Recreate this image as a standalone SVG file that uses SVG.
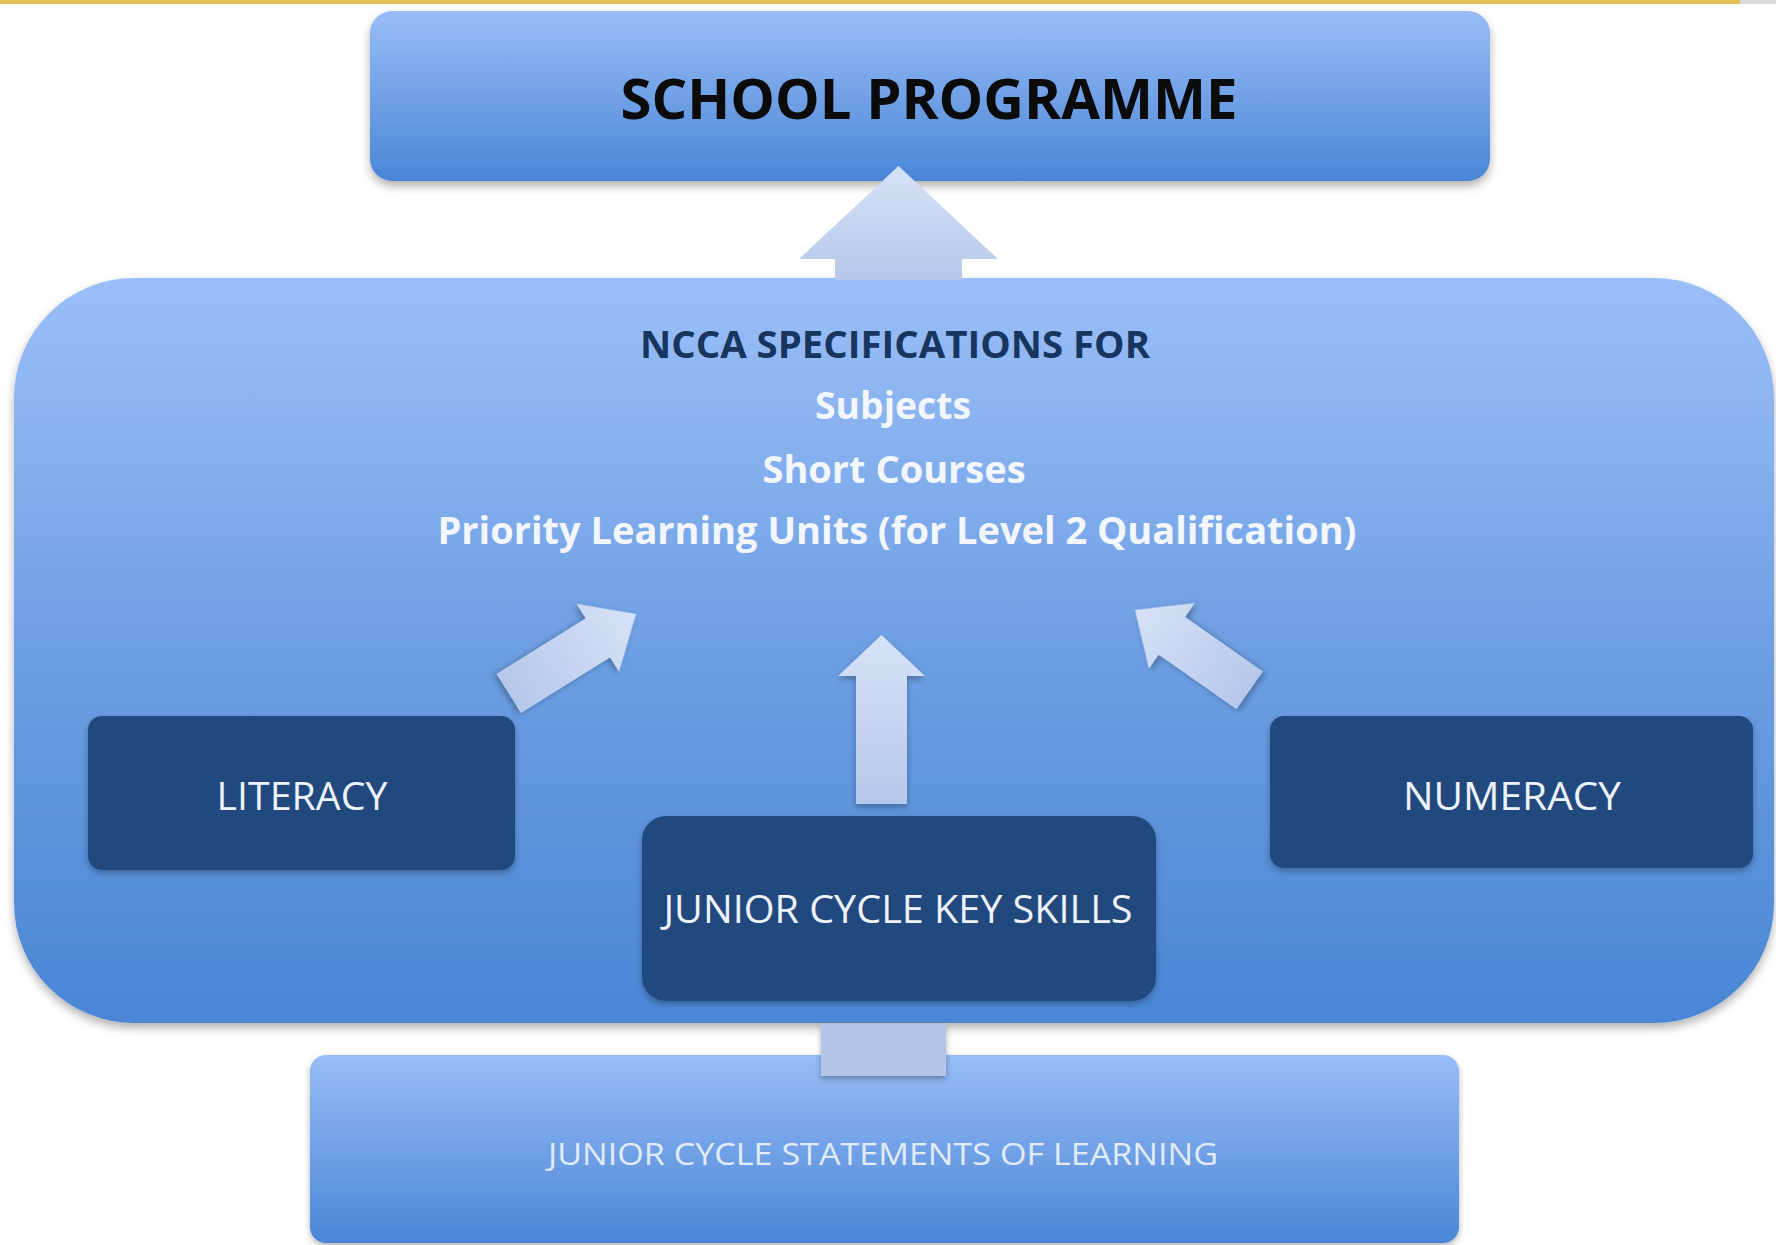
<svg xmlns="http://www.w3.org/2000/svg" width="1776" height="1245" viewBox="0 0 1776 1245">
  <style>
    .t { font-family: "Open Sans", "Liberation Sans", sans-serif; text-anchor: middle; }
    .title { font-weight: 700; font-size: 56px; fill: #0b0b0b; }
    .ncca { font-weight: 700; font-size: 37px; fill: #17365f; }
    .spec { font-weight: 700; font-size: 37px; fill: #f3f7fd; }
    .dark { font-weight: 400; font-size: 38px; fill: #eef3fb; }
    .sol { font-weight: 400; font-size: 31px; fill: #e2ebf8; }
    .darkbox { fill: #214a7e; }
    .arrow { fill: url(#arrowGrad); }
  </style>
  <defs>
    <linearGradient id="lightBox" x1="0" y1="0" x2="0" y2="1">
      <stop offset="0" stop-color="#98bdf7"/>
      <stop offset="1" stop-color="#4a86d6"/>
    </linearGradient>
    <linearGradient id="bigBox" x1="0" y1="0" x2="0" y2="1">
      <stop offset="0" stop-color="#9bbff8"/>
      <stop offset="0.5" stop-color="#6d9fe3"/>
      <stop offset="1" stop-color="#4a86d5"/>
    </linearGradient>
    <linearGradient id="arrowGrad" x1="0" y1="0" x2="0" y2="1">
      <stop offset="0" stop-color="#d6e2f7"/>
      <stop offset="1" stop-color="#b6c8ea"/>
    </linearGradient>
    <filter id="shadow" x="-10%" y="-10%" width="120%" height="130%">
      <feDropShadow dx="0" dy="5" stdDeviation="5" flood-color="#000" flood-opacity="0.3"/>
    </filter>
    <filter id="shadowSm" x="-20%" y="-20%" width="140%" height="140%">
      <feDropShadow dx="0" dy="3" stdDeviation="3" flood-color="#000" flood-opacity="0.3"/>
    </filter>
  </defs>

  <rect x="0" y="0" width="1776" height="1245" fill="#ffffff"/>
  <rect x="0" y="0" width="1740" height="4" fill="#e3bd55"/>
  <rect x="1740" y="0" width="36" height="4" fill="#d9d9d9"/>

  <g id="node-school-programme">
    <rect x="370" y="11" width="1120" height="170" rx="22" fill="url(#lightBox)" filter="url(#shadow)"/>
    <text class="t title" x="929" y="119" textLength="617" lengthAdjust="spacingAndGlyphs">SCHOOL PROGRAMME</text>
  </g>

  <g id="node-ncca-specifications">
    <rect x="14" y="278" width="1760" height="745" rx="120" fill="url(#bigBox)" filter="url(#shadow)"/>
    <text class="t ncca" x="895" y="358" textLength="510" lengthAdjust="spacingAndGlyphs">NCCA SPECIFICATIONS FOR</text>
    <text class="t spec" x="893" y="419" textLength="156" lengthAdjust="spacingAndGlyphs">Subjects</text>
    <text class="t spec" x="894" y="483" textLength="263" lengthAdjust="spacingAndGlyphs">Short Courses</text>
    <text class="t spec" x="897" y="544" textLength="919" lengthAdjust="spacingAndGlyphs">Priority Learning Units (for Level 2 Qualification)</text>
  </g>

  <g id="node-literacy">
    <rect class="darkbox" x="88" y="716" width="427" height="154" rx="14" filter="url(#shadowSm)"/>
    <text class="t dark" x="302" y="810" textLength="171" lengthAdjust="spacingAndGlyphs">LITERACY</text>
  </g>

  <g id="node-numeracy">
    <rect class="darkbox" x="1270" y="716" width="483" height="152" rx="14" filter="url(#shadowSm)"/>
    <text class="t dark" x="1512" y="810" textLength="218" lengthAdjust="spacingAndGlyphs">NUMERACY</text>
  </g>

  <g id="node-key-skills">
    <rect class="darkbox" x="642" y="816" width="514" height="185" rx="24" filter="url(#shadowSm)"/>
    <text class="t dark" x="898" y="923" textLength="469" lengthAdjust="spacingAndGlyphs">JUNIOR CYCLE KEY SKILLS</text>
  </g>

  <g id="node-statements-of-learning">
    <rect x="310" y="1055" width="1149" height="188" rx="16" fill="url(#lightBox)" filter="url(#shadowSm)"/>
    <text class="t sol" x="883" y="1165" textLength="670" lengthAdjust="spacingAndGlyphs">JUNIOR CYCLE STATEMENTS OF LEARNING</text>
  </g>

  <g id="connectors">
    <path class="arrow" d="M898.5,166 L998,259 L962,259 L962,280 L835,280 L835,259 L799,259 Z"/>
    <path class="arrow" filter="url(#shadowSm)" transform="translate(636,614) rotate(58)" d="M0,0 L40,45 L23,45 L23,150 L-23,150 L-23,45 L-40,45 Z"/>
    <path class="arrow" filter="url(#shadowSm)" d="M881.5,635 L925,676 L907,676 L907,804 L856,804 L856,676 L838,676 Z"/>
    <path class="arrow" filter="url(#shadowSm)" transform="translate(1135,610) rotate(-55)" d="M0,0 L40,45 L23,45 L23,140 L-23,140 L-23,45 L-40,45 Z"/>
    <rect x="821" y="1024" width="125" height="52" fill="#b3c6e9" filter="url(#shadowSm)"/>
  </g>
</svg>
